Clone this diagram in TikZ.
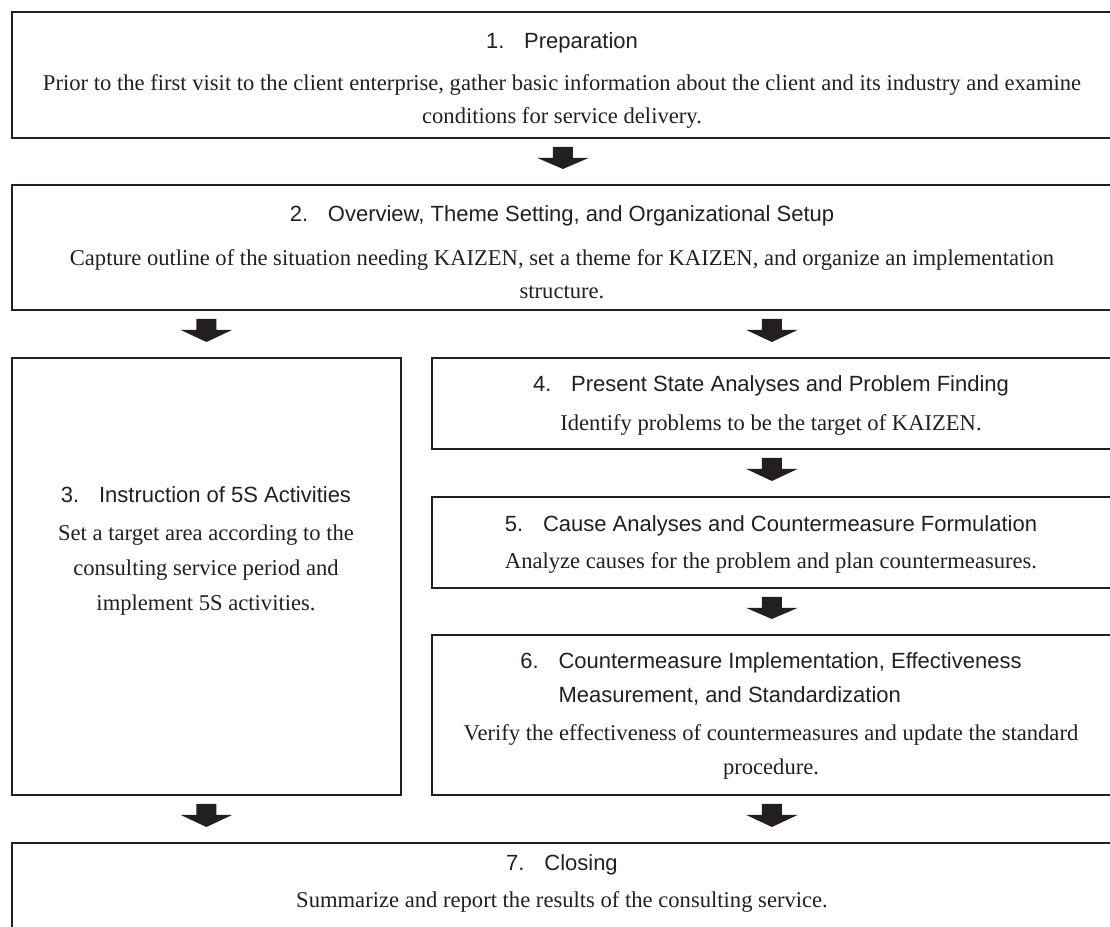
\documentclass[tikz,border=0pt]{standalone}
\usepackage{fontspec}
\setmainfont{Liberation Serif}
\setsansfont{Liberation Sans}
\usetikzlibrary{calc}
\definecolor{ink}{HTML}{231F20}
\newcommand\tabgap{\hspace{0.9em}}
% block arrow from node #1 down to node #2, centred on node #3
\newcommand\blockarrow[3]{%
  \fill[ink] let \p1=(#1.south), \p2=(#2.north), \p3=(#3.center) in
    (\x3-10pt,\y1-8pt) -- (\x3+10pt,\y1-8pt) -- (\x3+10pt,\y1-19pt)
    -- (\x3+26pt,\y1-19pt) -- (\x3,\y2+15pt) -- (\x3-26pt,\y1-19pt)
    -- (\x3-10pt,\y1-19pt) -- cycle;}
\tikzset{
  box/.style={draw=ink, line width=1.8pt, rectangle, inner sep=0pt, anchor=north west},
  head/.style={font=\sffamily\fontsize{22}{26}\selectfont, text=ink, anchor=base, inner sep=0pt},
  body/.style={font=\fontsize{22.6}{26}\selectfont, text=ink, anchor=base, inner sep=0pt},
}
\begin{document}
\begin{tikzpicture}[x=1pt,y=-1pt]
\useasboundingbox (0,0) rectangle (1110,926);
\clip (0,0) rectangle (1110,926);

% boxes
\node[box, minimum width=1102pt, minimum height=126pt] (b1) at (11,11) {};
\node[box, minimum width=1102pt, minimum height=125pt] (b2) at (11,184) {};
\node[box, minimum width=389pt, minimum height=437pt] (b3) at (11,357) {};
\node[box, minimum width=680pt, minimum height=91pt] (b4) at (431,357) {};
\node[box, minimum width=680pt, minimum height=91pt] (b5) at (431,496) {};
\node[box, minimum width=680pt, minimum height=160pt] (b6) at (431,634) {};
\node[box, minimum width=1102pt, minimum height=130pt] (b7) at (11,842) {};

% step 1
\node[head] (h1) at (562,48) {1.\tabgap Preparation};
\node[body] (t1a) at (562,90) {Prior to the first visit to the client enterprise, gather basic information about the client and its industry and examine};
\node[body] (t1b) at (562,123) {conditions for service delivery.};

% step 2
\node[head] (h2) at (562,221) {2.\tabgap Overview, Theme Setting, and Organizational Setup};
\node[body] (t2a) at (562,265) {Capture outline of the situation needing KAIZEN, set a theme for KAIZEN, and organize an implementation};
\node[body] (t2b) at (562,298) {structure.};

% step 3
\node[head] (h3) at (206,502) {3.\tabgap Instruction of 5S Activities};
\node[body] (t3a) at (206,540) {Set a target area according to the};
\node[body] (t3b) at (206,575) {consulting service period and};
\node[body] (t3c) at (206,610) {implement 5S activities.};

% step 4
\node[head] (h4) at (771,391) {4.\tabgap Present State Analyses and Problem Finding};
\node[body] (t4a) at (771,430) {Identify problems to be the target of KAIZEN.};

% step 5
\node[head] (h5) at (771,531) {5.\tabgap Cause Analyses and Countermeasure Formulation};
\node[body] (t5a) at (771,568) {Analyze causes for the problem and plan countermeasures.};

% step 6
\node[head] (h6a) at (771,668) {6.\tabgap Countermeasure Implementation, Effectiveness};
\node[head, anchor=base west] (h6b) at ($(h6a.base west)+(0,34)$) {\hphantom{6.\tabgap}Measurement, and Standardization};
\node[body] (t6a) at (771,740) {Verify the effectiveness of countermeasures and update the standard};
\node[body] (t6b) at (771,774) {procedure.};

% step 7
\node[head] (h7) at (562,870) {7.\tabgap Closing};
\node[body] (t7a) at (562,907) {Summarize and report the results of the consulting service.};

% arrows
\blockarrow{b1}{b2}{b1}
\blockarrow{b2}{b3}{b3}
\blockarrow{b2}{b4}{b4}
\blockarrow{b4}{b5}{b4}
\blockarrow{b5}{b6}{b5}
\blockarrow{b3}{b7}{b3}
\blockarrow{b6}{b7}{b6}
\end{tikzpicture}
\end{document}
